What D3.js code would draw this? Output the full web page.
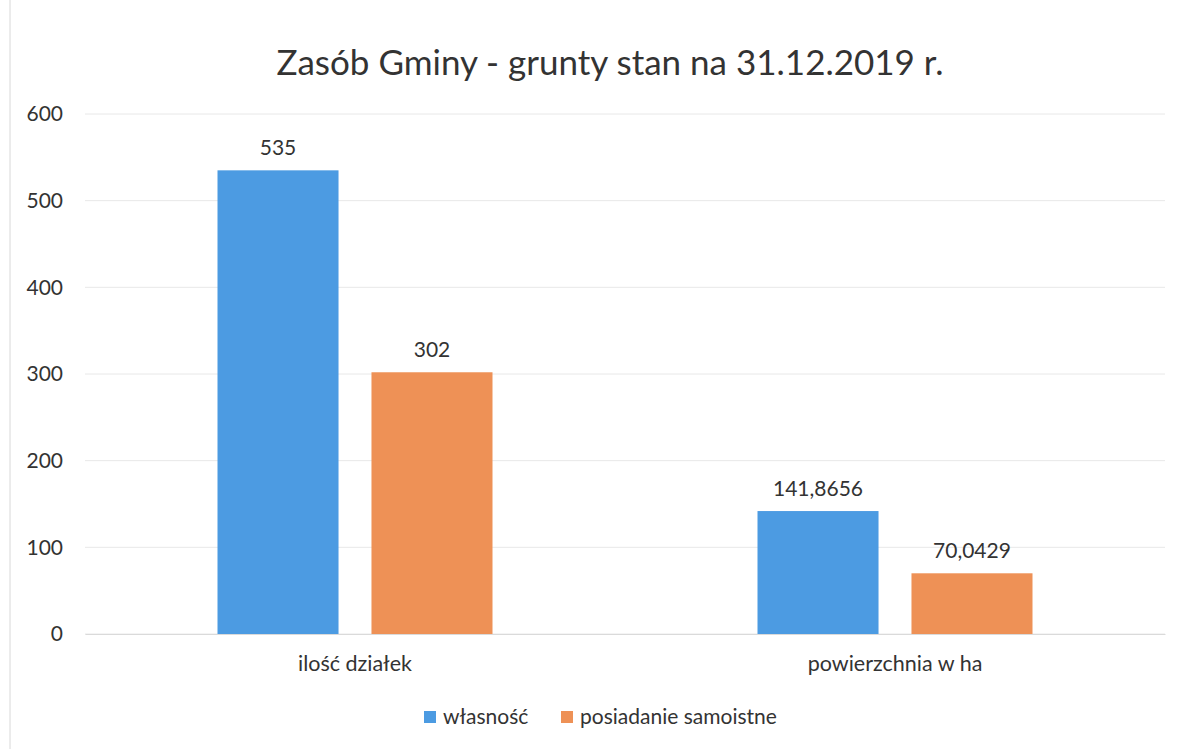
<!DOCTYPE html>
<html>
<head>
<meta charset="utf-8">
<script src="https://cdn.jsdelivr.net/npm/d3@7"></script>
<style>
  body { margin: 0; background: #fff; }
  text { font-family: Lato, "Noto Sans", sans-serif; fill: #333; }
</style>
</head>
<body>
<div id="chart"></div>
<script>
var categories = ["ilość działek", "powierzchnia w ha"];
var seriesNames = ["własność", "posiadanie samoistne"];
var wlasnosc = [535, 141.8656];
var posiadanie = [302, 70.0429];
var valueLabels = [["535", "141,8656"], ["302", "70,0429"]];
var yTicks = [0, 100, 200, 300, 400, 500, 600];
var colors = ["#4c9be2", "#ee9156"];

var margin = {top: 114, right: 18, bottom: 115, left: 85};
var width = 1183 - margin.left - margin.right;
var height = 749 - margin.top - margin.bottom;

var svg = d3.select("#chart").append("svg")
  .attr("width", 1183)
  .attr("height", 749);

// border of the chart area
svg.append("line")
  .attr("x1", 10).attr("x2", 10)
  .attr("y1", 0).attr("y2", 749)
  .attr("stroke", "#d8d8d8");

svg.append("text")
  .attr("x", 610)
  .attr("y", 75)
  .attr("text-anchor", "middle")
  .style("font-size", "35px")
  .text("Zasób Gminy - grunty stan na 31.12.2019 r.");

var g = svg.append("g")
  .attr("transform", "translate(" + margin.left + "," + margin.top + ")");

var x0 = d3.scaleBand().domain(categories).range([0, width]);
var x1 = d3.scaleBand().domain([0, 1]).range([0, 275]).paddingInner(0.214);
var y = d3.scaleLinear().domain([0, 600]).range([height, 0]);

// gridlines
g.append("g")
  .selectAll("line")
  .data(yTicks)
  .join("line")
  .attr("x1", 0).attr("x2", width)
  .attr("y1", d => y(d)).attr("y2", d => y(d))
  .attr("stroke", "#e8e8e8");

var yAxis = g.append("g")
  .call(d3.axisLeft(y).tickValues(yTicks).tickSize(0).tickPadding(22));
yAxis.select(".domain").remove();
yAxis.selectAll("text").style("font-size", "21px").style("font-family", "Lato, 'Noto Sans', sans-serif").attr("fill", "#333");

var xAxis = g.append("g")
  .attr("transform", "translate(0," + height + ")")
  .call(d3.axisBottom(x0).tickSize(0).tickPadding(22));
xAxis.select(".domain").attr("stroke", "#dadada");
xAxis.selectAll("text").style("font-size", "21.5px").style("font-family", "Lato, 'Noto Sans', sans-serif").attr("fill", "#333");

var series = [wlasnosc, posiadanie];
var groups = g.selectAll(".grp")
  .data(categories)
  .join("g")
  .attr("class", "grp")
  .attr("transform", d => "translate(" + (x0(d) + (x0.bandwidth() - 275) / 2) + ",0)");

groups.each(function(cat, ci) {
  var gg = d3.select(this);
  series.forEach(function(s, si) {
    gg.append("rect")
      .attr("x", x1(si))
      .attr("width", x1.bandwidth())
      .attr("y", y(s[ci]))
      .attr("height", height - y(s[ci]))
      .attr("fill", colors[si]);
    gg.append("text")
      .attr("x", x1(si) + x1.bandwidth() / 2)
      .attr("y", y(s[ci]) - 15)
      .attr("text-anchor", "middle")
      .style("font-size", "21px")
      .text(valueLabels[si][ci]);
  });
});

// legend
var legend = svg.append("g").attr("transform", "translate(424,717)");
var legX = [0, 137];
seriesNames.forEach(function(n, i) {
  legend.append("rect")
    .attr("x", legX[i]).attr("y", -6)
    .attr("width", 12).attr("height", 12)
    .attr("fill", colors[i]);
  legend.append("text")
    .attr("x", legX[i] + 19).attr("y", 7)
    .style("font-size", "21px")
    .text(n);
});
</script>
</body>
</html>
